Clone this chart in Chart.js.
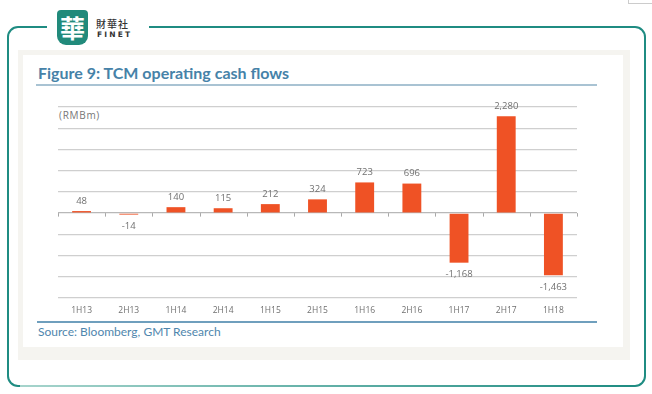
<!DOCTYPE html>
<html>
<head>
<meta charset="utf-8">
<script src="https://cdn.jsdelivr.net/npm/chart.js@4/dist/chart.umd.min.js"></script>
<style>
    html, body { margin: 0; padding: 0; background: #fff; }
    body { width: 652px; height: 394px; position: relative; overflow: hidden; font-family: Lato, "Open Sans", sans-serif; }
    .abs { position: absolute; }
    #frame { left: 7px; top: 26px; width: 635px; height: 357px; border: 2px solid #1f8c82; border-radius: 11px; }
    #frameBottom { left: 20px; top: 385px; width: 612px; height: 2px; background: linear-gradient(to right, #a6d4cc, #1f8c82); }
    #logoGap { left: 47px; top: 20px; width: 102px; height: 12px; background: #fff; }
    #logoMark { left: 57px; top: 10px; width: 31px; height: 35px; background: #218a7b; border-radius: 4px 4px 9px 9px; color: #fff; font: 700 25px "Noto Sans CJK TC", sans-serif; line-height: 34px; text-align: center; }
    #logoCn { left: 96px; top: 18px; font: 500 10px "Noto Sans CJK TC", sans-serif; color: #333; letter-spacing: 1px; line-height: 12px; }
    #logoEn { left: 97px; top: 31px; font: 700 7.5px "DejaVu Sans", sans-serif; color: #333; letter-spacing: 2.2px; line-height: 8px; }
    #outerPanel { left: 18px; top: 50px; width: 612px; height: 310px; background: #f5f4f0; }
    #innerPanel { left: 23px; top: 55px; width: 600px; height: 292px; background: #fff; }
    #title { left: 38px; top: 63px; font-size: 16px; font-weight: 700; color: #4682a8; line-height: 19px; white-space: nowrap; }
    #titleRule { left: 36px; top: 84px; width: 561px; height: 2px; background: #a9c3d3; }
    #unit { left: 59px; top: 109px; font: 10px "Open Sans", sans-serif; color: #777; letter-spacing: 0.7px; line-height: 12px; }
    #sourceRule { left: 37px; top: 321px; width: 560px; height: 1.5px; background: #6f9fbd; }
    #source { left: 38px; top: 325px; font-size: 12px; color: #4f86ad; line-height: 14px; white-space: nowrap; }
    #corner { left: 628px; top: -2px; width: 30px; height: 4px; border: 1px solid #ccc; }
    #chart { position: absolute; left: 0; top: 0; }
</style>
</head>
<body>
<div class="abs" id="corner"></div>
<div class="abs" id="frame"></div>
<div class="abs" id="frameBottom"></div>
<div class="abs" id="logoGap"></div>
<div class="abs" id="logoMark">華</div>
<div class="abs" id="logoCn">財華社</div>
<div class="abs" id="logoEn">FINET</div>
<div class="abs" id="outerPanel"></div>
<div class="abs" id="innerPanel"></div>
<div class="abs" id="title">Figure 9: TCM operating cash flows</div>
<div class="abs" id="titleRule"></div>
<div class="abs" id="unit">(RMBm)</div>
<div class="abs" id="sourceRule"></div>
<div class="abs" id="source">Source: Bloomberg, GMT Research</div>
<canvas id="chart" width="652" height="394"></canvas>
<script>
// Data
const categories = ['1H13', '2H13', '1H14', '2H14', '1H15', '2H15', '1H16', '2H16', '1H17', '2H17', '1H18'];
const cashFlows = [48, -14, 140, 115, 212, 324, 723, 696, -1168, 2280, -1463];
const yMin = -2000;
const yMax = 2500;
const yStep = 500;

const barColor = '#ef5225';
const gridColor = '#cfcfcf';
const labelColor = '#707070';

// Value labels above / below bars
const valueLabels = {
    id: 'valueLabels',
    afterDatasetsDraw(chart) {
        const ctx = chart.ctx;
        const meta = chart.getDatasetMeta(0);
        ctx.save();
        ctx.font = '9.5px "Open Sans", sans-serif';
        ctx.fillStyle = labelColor;
        ctx.textAlign = 'center';
        ctx.textBaseline = 'middle';
        meta.data.forEach((bar, i) => {
            const v = cashFlows[i];
            const txt = v.toLocaleString('en-US');
            const y = v >= 0 ? Math.min(bar.y, bar.base) - 10 : Math.max(bar.y, bar.base) + 12;
            ctx.fillText(txt, bar.x, y);
        });
        ctx.restore();
    }
};

// Small tick marks on the zero line between categories
const zeroTicks = {
    id: 'zeroTicks',
    beforeDatasetsDraw(chart) {
        const ctx = chart.ctx;
        const x = chart.scales.x;
        const y0 = chart.scales.y.getPixelForValue(0);
        ctx.save();
        ctx.strokeStyle = '#a8a8a8';
        ctx.lineWidth = 1;
        for (let i = 0; i <= categories.length; i++) {
            const px = Math.round(x.getPixelForValue(i - 0.5)) + 0.5;
            ctx.beginPath();
            ctx.moveTo(px, y0);
            ctx.lineTo(px, y0 + 3.5);
            ctx.stroke();
        }
        ctx.restore();
    }
};

new Chart(document.getElementById('chart').getContext('2d'), {
    type: 'bar',
    data: {
        labels: categories,
        datasets: [{
            data: cashFlows,
            backgroundColor: barColor,
            borderWidth: 0,
            barPercentage: 0.4,
            categoryPercentage: 1,
            minBarLength: 1.5
        }]
    },
    options: {
        responsive: false,
        animation: false,
        layout: { padding: { left: 58, right: 75, top: 107, bottom: 76 } },
        plugins: {
            legend: { display: false },
            tooltip: { enabled: false }
        },
        scales: {
            x: {
                grid: { display: false, drawTicks: false },
                border: { display: false },
                ticks: {
                    color: labelColor,
                    font: { family: '"Open Sans", sans-serif', size: 8.5 },
                    padding: 7,
                    maxRotation: 0,
                    autoSkip: false
                },
                afterFit(scale) { scale.height = 20; }
            },
            y: {
                min: yMin,
                max: yMax,
                ticks: { display: false, stepSize: yStep },
                grid: {
                    drawTicks: false,
                    lineWidth: 1.3,
                    color: ctx => ctx.tick && ctx.tick.value === 0 ? '#b8b8b8' : gridColor
                },
                border: { display: false },
                afterFit(scale) { scale.width = 0; }
            }
        }
    },
    plugins: [zeroTicks, valueLabels]
});
</script>
</body>
</html>
